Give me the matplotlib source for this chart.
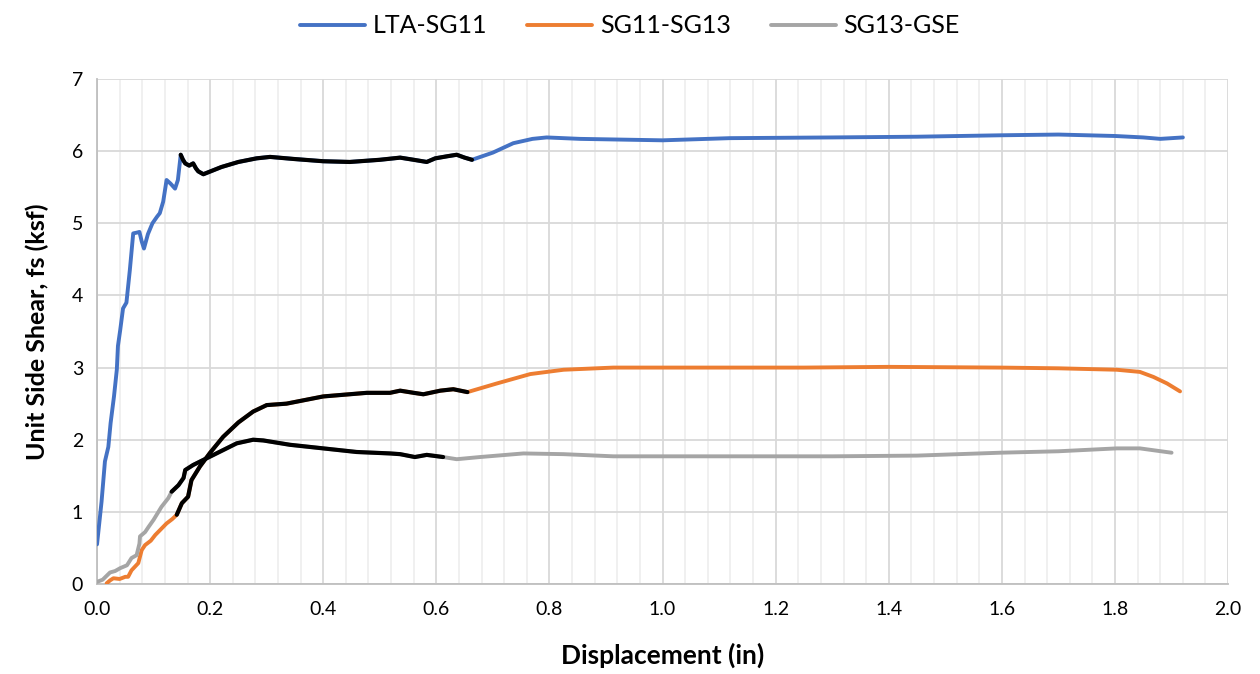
import numpy as np
import matplotlib.pyplot as plt
from matplotlib.ticker import MultipleLocator

plt.rcParams['font.family'] = ['Lato', 'DejaVu Sans']

# unit side shear vs displacement for each gauge segment
lta_x = [0.0, 0.008, 0.014, 0.020, 0.024, 0.030, 0.035, 0.037, 0.041, 0.046, 0.052, 0.058,
         0.064, 0.070, 0.075, 0.079, 0.083, 0.090, 0.098, 0.106, 0.111, 0.117, 0.123, 0.130,
         0.138, 0.143, 0.148, 0.152, 0.156, 0.163, 0.170, 0.175, 0.179, 0.188, 0.22, 0.25,
         0.282, 0.306, 0.35, 0.40, 0.447, 0.50, 0.536, 0.560, 0.583, 0.598, 0.62, 0.636,
         0.650, 0.663, 0.70, 0.736, 0.77, 0.795, 0.854, 1.0, 1.119, 1.3, 1.45, 1.6, 1.7,
         1.8, 1.85, 1.88, 1.92]
lta_y = [0.55, 1.14, 1.70, 1.90, 2.23, 2.60, 2.97, 3.30, 3.52, 3.82, 3.90, 4.35,
         4.86, 4.87, 4.88, 4.75, 4.65, 4.85, 5.00, 5.09, 5.14, 5.30, 5.60, 5.55,
         5.48, 5.60, 5.95, 5.88, 5.83, 5.80, 5.83, 5.76, 5.72, 5.68, 5.78, 5.85,
         5.90, 5.92, 5.89, 5.86, 5.85, 5.88, 5.91, 5.88, 5.85, 5.90, 5.93, 5.95,
         5.91, 5.88, 5.98, 6.11, 6.17, 6.19, 6.17, 6.15, 6.18, 6.19, 6.20, 6.22, 6.23,
         6.21, 6.19, 6.17, 6.19]

sg11_x = [0.017, 0.023, 0.029, 0.040, 0.050, 0.055, 0.061, 0.067, 0.073, 0.079, 0.085,
          0.095, 0.103, 0.113, 0.123, 0.133, 0.141, 0.150, 0.161, 0.167, 0.182, 0.20,
          0.223, 0.25, 0.276, 0.300, 0.335, 0.40, 0.477, 0.518, 0.536, 0.560, 0.577,
          0.607, 0.630, 0.655, 0.707, 0.766, 0.825, 0.913, 1.0, 1.119, 1.25, 1.4, 1.597,
          1.70, 1.803, 1.844, 1.868, 1.892, 1.915]
sg11_y = [0.01, 0.05, 0.08, 0.07, 0.10, 0.10, 0.19, 0.24, 0.29, 0.47, 0.54,
          0.60, 0.68, 0.76, 0.84, 0.90, 0.96, 1.12, 1.21, 1.44, 1.63, 1.82,
          2.04, 2.24, 2.39, 2.48, 2.50, 2.60, 2.65, 2.65, 2.68, 2.65, 2.63,
          2.68, 2.70, 2.66, 2.78, 2.91, 2.97, 3.00, 3.00, 3.00, 3.00, 3.01, 3.00,
          2.99, 2.97, 2.94, 2.87, 2.78, 2.67]

sg13_x = [0.0, 0.010, 0.023, 0.032, 0.041, 0.053, 0.061, 0.070, 0.075, 0.076, 0.085,
          0.091, 0.100, 0.114, 0.126, 0.132, 0.144, 0.153, 0.156, 0.170, 0.206, 0.247,
          0.276, 0.294, 0.341, 0.40, 0.459, 0.518, 0.536, 0.562, 0.583, 0.612, 0.636,
          0.677, 0.754, 0.825, 0.913, 1.119, 1.3, 1.45, 1.597, 1.70, 1.803, 1.844, 1.900]
sg13_y = [0.03, 0.06, 0.16, 0.18, 0.22, 0.26, 0.36, 0.40, 0.56, 0.66, 0.72,
          0.79, 0.89, 1.07, 1.19, 1.28, 1.37, 1.47, 1.58, 1.65, 1.79, 1.95,
          2.00, 1.99, 1.93, 1.88, 1.83, 1.81, 1.80, 1.76, 1.79, 1.76, 1.73,
          1.76, 1.81, 1.80, 1.77, 1.77, 1.77, 1.78, 1.82, 1.84, 1.88, 1.88, 1.82]

# displacement window of each segment that is traced over in black
lta_black = (0.148, 0.663)
sg11_black = (0.141, 0.655)
sg13_black = (0.132, 0.612)

series = [
    ("LTA-SG11", lta_x, lta_y, lta_black, "#4472C4"),
    ("SG11-SG13", sg11_x, sg11_y, sg11_black, "#ED7D31"),
    ("SG13-GSE", sg13_x, sg13_y, sg13_black, "#A5A5A5"),
]

fig = plt.figure(figsize=(12.6, 6.74), dpi=100)
ax = fig.add_axes([0.077, 0.1335, 0.8977, 0.7493])

for name, x, y, (b0, b1), color in series:
    ax.plot(x, y, color=color, lw=2.8, label=name, solid_capstyle='round',
            solid_joinstyle='round', zorder=3)
for name, x, y, (b0, b1), color in series:
    x = np.array(x)
    y = np.array(y)
    m = (x >= b0 - 1e-9) & (x <= b1 + 1e-9)
    ax.plot(x[m], y[m], color='black', lw=3.0, solid_capstyle='round',
            solid_joinstyle='round', zorder=4)

ax.set_xlim(0, 2.0)
ax.set_ylim(0, 7)
ax.xaxis.set_major_locator(MultipleLocator(0.2))
ax.xaxis.set_minor_locator(MultipleLocator(0.04))
ax.yaxis.set_major_locator(MultipleLocator(1))
ax.xaxis.set_major_formatter(plt.FuncFormatter(lambda v, p: f"{v:.1f}"))
ax.grid(which='major', color='#d9d9d9', lw=1.3, zorder=1)
ax.grid(which='minor', axis='x', color='#efefef', lw=1.3, zorder=0)
ax.tick_params(which='both', length=0, labelsize=14, colors='#000000')
ax.tick_params(axis='x', pad=12)
ax.tick_params(axis='y', pad=10)
for s in ['top', 'right']:
    ax.spines[s].set_visible(False)
for s in ['left', 'bottom']:
    ax.spines[s].set_color('#bfbfbf')
    ax.spines[s].set_linewidth(1.3)

ax.set_xlabel("Displacement (in)", fontsize=19, fontweight='bold', labelpad=18)
ax.set_ylabel("Unit Side Shear, fs (ksf)", fontsize=18, fontweight='bold', labelpad=16)

fig.legend(loc='upper center', bbox_to_anchor=(0.5, 1.012), ncol=3, frameon=False,
           fontsize=18, handlelength=2.6, columnspacing=1.6, handletextpad=0.3)

fig.savefig("out.png", dpi=100)
